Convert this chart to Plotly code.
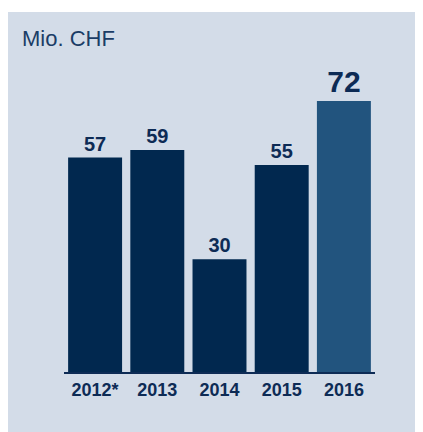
import plotly.graph_objects as go

years = ["2012*", "2013", "2014", "2015", "2016"]
values = [57, 59, 30, 55, 72]
bar_colors = ["#01284f", "#01284f", "#01284f", "#01284f", "#22547e"]
label_sizes = [20, 20, 20, 20, 30]

text_color = "#0d2b55"
panel_color = "#d3dce8"

fig = go.Figure(go.Bar(
    x=years, y=values,
    marker=dict(color=bar_colors, line=dict(width=0)),
    text=[str(v) for v in values],
    textposition="outside",
    cliponaxis=False,
    textfont=dict(family="Arial, Liberation Sans, sans-serif", size=label_sizes, color=text_color, weight="bold"),
    hoverinfo="skip",
))

fig.update_layout(
    width=414, height=424,
    margin=dict(l=56, r=47, t=63, b=60),
    paper_bgcolor=panel_color,
    plot_bgcolor="rgba(0,0,0,0)",
    bargap=0.1325,
    showlegend=False,
    shapes=[dict(type="rect", xref="paper", yref="paper",
                 x0=-0.5, x1=1.5, y0=(364-4)/301, y1=1.5,
                 fillcolor="white", line=dict(width=0), layer="below")],
    annotations=[dict(text="Mio. CHF", xref="paper", yref="paper",
                      x=(12-56)/311, y=(364-30)/301, xanchor="left", yanchor="middle",
                      showarrow=False,
                      font=dict(family="Arial, Liberation Sans, sans-serif", size=22, color="#1b3d66"))],
)
fig.update_xaxes(
    showline=True, linewidth=2, linecolor="#0d2b55",
    ticks="", showgrid=False,
    tickfont=dict(family="Arial, Liberation Sans, sans-serif", size=18, color=text_color, weight="bold"),
)
fig.update_yaxes(range=[0, 80], visible=False, showgrid=False, zeroline=False)

fig.write_html("out.html")
